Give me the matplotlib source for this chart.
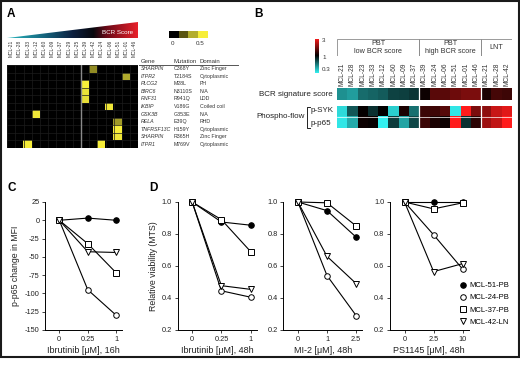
import numpy as np
import matplotlib
matplotlib.use('Agg')
from matplotlib import pyplot as plt
from matplotlib.colors import LinearSegmentedColormap, ListedColormap, LogNorm
from matplotlib.patches import Rectangle, Polygon
from matplotlib.lines import Line2D
import matplotlib.transforms as mtransforms

plt.rcParams['font.family'] = ['Liberation Sans', 'DejaVu Sans']

# ---- panel A: mutations ----
a_samples = ['MCL-21', 'MCL-28', 'MCL-33', 'MCL-12', 'MCL-60', 'MCL-09', 'MCL-37', 'MCL-29',
             'MCL-25', 'MCL-39', 'MCL-42', 'MCL-24', 'MCL-06', 'MCL-51', 'MCL-01', 'MCL-46']
a_genes = ['SHARPIN', 'ITPR2', 'PLCG2', 'BIRC6', 'RNF31', 'IKBIP', 'GSK3B', 'RELA',
           'TNFRSF13C', 'SHARPIN', 'ITPR1']
a_mutations = ['C368Y', 'T2184S', 'M28L', 'N3110S', 'R941Q', 'V186G', 'G353E', 'E39Q',
               'H159Y', 'R365H', 'M769V']
a_domains = ['Zinc Finger', 'Cytoplasmic', 'PH', 'N/A', 'LDD', 'Coiled coil', 'N/A', 'RHD',
             'Cytoplasmic', 'Zinc Finger', 'Cytoplasmic']
# allele frequency of the hits (gene row, sample column, value)
a_hit_rows = [0, 1, 2, 3, 4, 5, 6, 7, 8, 9, 10, 10]
a_hit_cols = [10, 14, 9, 9, 9, 12, 3, 13, 13, 13, 2, 11]
a_hit_vals = [0.27, 0.33, 0.5, 0.47, 0.46, 0.48, 0.48, 0.3, 0.5, 0.48, 0.5, 0.5]

# ---- panel B: BCR score / phospho-flow (fold change) ----
b_samples = ['MCL-21', 'MCL-28', 'MCL-23', 'MCL-33', 'MCL-12', 'MCL-60', 'MCL-09', 'MCL-37',
             'MCL-39', 'MCL-24', 'MCL-06', 'MCL-51', 'MCL-01', 'MCL-46',
             'MCL-21', 'MCL-28', 'MCL-42']
b_groups = ['PBT\nlow BCR score', 'PBT\nhigh BCR score', 'LNT']
b_group_sizes = [8, 6, 3]
b_bcr_score = [0.52, 0.49, 0.61, 0.63, 0.66, 0.74, 0.75, 0.78,
               1.06, 1.47, 1.47, 1.6, 1.69, 1.69, 1.12, 1.35, 1.3]
b_psyk = [0.37, 0.67, 1.02, 0.8, 1.0, 0.39, 1.12, 0.6,
          1.29, 1.3, 1.44, 0.35, 3.0, 1.69, 1.83, 2.36, 2.63]
b_pp65 = [0.35, 0.46, 1.06, 1.03, 0.33, 0.76, 0.47, 0.72,
          1.29, 1.12, 1.06, 3.0, 0.8, 1.2, 1.97, 2.28, 3.0]

# ---- panels C / D: drug response ----
cell_lines = ['MCL-51-PB', 'MCL-24-PB', 'MCL-37-PB', 'MCL-42-LN']
c_doses = ['0', '0.25', '1']
c_p65 = [[0, 3, 0], [0, -95, -130], [0, -32, -72], [0, -43, -44]]
d_ibr_doses = ['0', '0.25', '1']
d_ibr = [[1.0, 0.875, 0.855], [1.0, 0.445, 0.405], [1.0, 0.89, 0.69], [1.0, 0.477, 0.454]]
d_mi2_doses = ['0', '1', '2.5']
d_mi2 = [[1.0, 0.946, 0.78], [1.0, 0.54, 0.29], [1.0, 0.995, 0.85], [1.0, 0.66, 0.49]]
d_ps_doses = ['0', '2.5', '10']
d_ps = [[1.0, 1.0, 1.0], [1.0, 0.795, 0.58], [1.0, 0.957, 0.995], [1.0, 0.565, 0.615]]

W, H = 520, 367
TXT = '#222222'


def box(x0, y0, x1, y1):
    # pixel box -> figure fraction rect
    return [x0 / W, 1 - y1 / H, (x1 - x0) / W, (y1 - y0) / H]


fig = plt.figure(figsize=(5.2, 3.67), dpi=100)

for letter, x, y in [('A', 7, 14), ('B', 254, 14), ('C', 8, 188), ('D', 149, 188)]:
    fig.text(x / W, 1 - y / H, letter, fontsize=8.5, fontweight='bold', va='center')

# ================= A =================
mut_cmap = LinearSegmentedColormap.from_list('mut', ['#000000', '#5a5512', '#b3ad2e', '#f7ee3a'])
mat = np.zeros((len(a_genes), len(a_samples)))
for r, c, v in zip(a_hit_rows, a_hit_cols, a_hit_vals):
    mat[r, c] = v

ax_a = fig.add_axes(box(7.3, 65, 138.3, 148))
ax_a.imshow(mat, cmap=mut_cmap, vmin=0, vmax=0.5, aspect='auto', interpolation='nearest')
ax_a.set_xticks(np.arange(-0.5, len(a_samples), 1), minor=True)
ax_a.set_yticks(np.arange(-0.5, len(a_genes), 1), minor=True)
ax_a.set_xticks([])
ax_a.set_yticks([])
ax_a.grid(which='minor', color='#1c1c1c', lw=0.5)
ax_a.tick_params(which='both', length=0)
ax_a.axvline(8.5, color='#8a8a8a', lw=1)
for s in ax_a.spines.values():
    s.set_visible(False)
trans = mtransforms.blended_transform_factory(ax_a.transData, ax_a.transAxes)
for j, name in enumerate(a_samples):
    ax_a.text(j, 1.096, name, transform=trans, rotation=90, ha='center', va='bottom',
              fontsize=3.5, color='#333333')

# BCR score triangle
ax_t = fig.add_axes(box(7.3, 22, 138.3, 38))
tri_cmap = LinearSegmentedColormap.from_list(
    'tri', [(0, '#2ab8c0'), (0.3, '#14607a'), (0.5, '#0c2040'), (0.66, '#08080e'),
            (0.76, '#6a0a18'), (1, '#e8202a')])
im = ax_t.imshow(np.linspace(0, 1, 256)[None, :], cmap=tri_cmap, aspect='auto',
                 extent=[0, 1, 0, 1])
im.set_clip_path(Polygon([(0, 0), (1, 0), (1, 1)], closed=True, transform=ax_t.transAxes))
ax_t.set_xlim(0, 1)
ax_t.set_ylim(0, 1)
ax_t.axis('off')
ax_t.text(0.84, 0.32, 'BCR Score', color='white', fontsize=4.5, ha='center', va='center')

# small key
ax_k = fig.add_axes(box(169.3, 31, 208.3, 38))
ax_k.imshow([[0, 1, 2, 3]], cmap=ListedColormap(mut_cmap(np.linspace(0, 1, 4))), aspect='auto')
ax_k.set_xticks([])
ax_k.set_yticks([])
for s in ax_k.spines.values():
    s.set_visible(False)
ax_k.text(-0.15, 1.25, '0', fontsize=4.5, ha='center', va='center', color='#333333')
ax_k.text(2.65, 1.25, '0.5', fontsize=4.5, ha='center', va='center', color='#333333')

# gene table
ax_tab = fig.add_axes(box(138.3, 57.4, 245, 148))
ax_tab.set_xlim(138.3, 245)
ax_tab.set_ylim(10.5, -1.5)
ax_tab.axis('off')
for x, head in [(141, 'Gene'), (174, 'Mutation'), (200, 'Domain')]:
    ax_tab.text(x, -1, head, fontsize=4.3, va='center', color='#333333')
for i, (g, m, d) in enumerate(zip(a_genes, a_mutations, a_domains)):
    ax_tab.text(141, i, g, fontsize=3.8, style='italic', va='center', color='#333333')
    ax_tab.text(174, i, m, fontsize=3.8, va='center', color='#333333')
    ax_tab.text(200, i, d, fontsize=3.8, va='center', color='#333333')
ax_tab.plot([139, 238], [-0.5, -0.5], color='#555555', lw=0.7)
ax_tab.plot([139, 238], [10.45, 10.45], color='#555555', lw=0.6)

# ================= B =================
bcr_cmap = LinearSegmentedColormap.from_list('bcr', ['#33f0f0', '#000000', '#ff1c1c'])
norm = LogNorm(vmin=1 / 3, vmax=3)

ax_cb = fig.add_axes(box(315, 39, 318.5, 73))
ax_cb.imshow(np.logspace(np.log10(1 / 3), np.log10(3), 128)[:, None], cmap=bcr_cmap, norm=norm,
             aspect='auto', origin='lower')
ax_cb.axis('off')
for lab, yy in [('3', 0.97), ('1', 0.47), ('0.3', 0.09)]:
    ax_cb.text(2.0, yy, lab, transform=ax_cb.transAxes, fontsize=4.5, va='center',
               color='#333333')

ax_hdr = fig.add_axes(box(337, 39, 512, 56))
ax_hdr.set_xlim(-0.5, len(b_samples) - 0.5)
ax_hdr.set_ylim(0, 1)
ax_hdr.axis('off')
start = -0.5
for name, n in zip(b_groups, b_group_sizes):
    ax_hdr.add_patch(Rectangle((start, 0.02), n, 0.96, fill=False, ec='#8a8a8a', lw=0.6))
    ax_hdr.text(start + n / 2, 0.5, name, ha='center', va='center', fontsize=5.2,
                linespacing=1.25, color='#333333')
    start += n
bounds = np.cumsum(b_group_sizes)[:-1] - 0.5

ax_sig = fig.add_axes(box(337, 88, 512, 100))
ax_sig.imshow([b_bcr_score], cmap=bcr_cmap, norm=norm, aspect='auto', interpolation='nearest')
ax_ph = fig.add_axes(box(337, 105.7, 512, 128.5))
ax_ph.imshow([b_psyk, b_pp65], cmap=bcr_cmap, norm=norm, aspect='auto', interpolation='nearest')
ax_ph.axhline(0.5, color='white', lw=0.5)
for ax in (ax_sig, ax_ph):
    ax.set_xticks([])
    ax.set_yticks([])
    for s in ax.spines.values():
        s.set_visible(False)
    for b in bounds:
        ax.axvline(b, color='white', lw=0.9)
trans = mtransforms.blended_transform_factory(ax_sig.transData, ax_sig.transAxes)
for j, name in enumerate(b_samples):
    ax_sig.text(j, 1.17, name, transform=trans, rotation=90, ha='center', va='bottom',
                fontsize=4.8, color='#333333')

fig.text(333 / W, 1 - 94 / H, 'BCR signature score', ha='right', va='center', fontsize=5.8,
         color=TXT)
fig.text(256 / W, 1 - 117 / H, 'Phospho-flow', ha='left', va='center', fontsize=5.8,
         color=TXT)
fig.add_artist(Line2D(np.array([310, 306.5, 306.5, 310]) / W,
                      1 - np.array([106.5, 106.5, 128, 128]) / H,
                      transform=fig.transFigure, color=TXT, lw=0.7))
fig.text(311 / W, 1 - 111 / H, 'p-SYK', va='center', fontsize=5.8, color=TXT)
fig.text(311 / W, 1 - 123.5 / H, 'p-p65', va='center', fontsize=5.8, color=TXT)

# ================= C / D =================
styles = [dict(marker='o', mfc='black'), dict(marker='o', mfc='white'),
          dict(marker='s', mfc='white'), dict(marker='v', mfc='white')]


def curves(ax, doses, series, xlabel, ylim, yticks, ylabels):
    x = np.arange(len(doses))
    for vals, st in zip(series, styles):
        ax.plot(x, vals, color='black', lw=0.8, mec='black', mew=0.7, ms=4,
                clip_on=False, **st)
    ax.set_xlim(-0.5, 2.2)
    ax.set_ylim(*ylim)
    ax.set_xticks(x)
    ax.set_xticklabels(doses)
    ax.set_yticks(yticks)
    ax.set_yticklabels(ylabels)
    ax.set_xlabel(xlabel, fontsize=6.5, labelpad=2.5, color=TXT)
    ax.spines[['top', 'right']].set_visible(False)
    for s in ('left', 'bottom'):
        ax.spines[s].set_linewidth(0.7)
    ax.tick_params(length=2, width=0.6, labelsize=5.3, pad=2, colors=TXT)


ax_c = fig.add_axes(box(45, 202, 122, 330))
cticks = [-150, -125, -100, -75, -50, -25, 0, 25]
curves(ax_c, c_doses, c_p65, 'Ibrutinib [\u03bcM], 16h', (-150, 25), cticks,
       [str(t) for t in cticks])
ax_c.set_ylabel('p-p65 change in MFI', fontsize=6.3, labelpad=3, color=TXT)

dticks = [0.2, 0.4, 0.6, 0.8, 1.0]
dlabels = ['0.2', '0.4', '0.6', '0.8', '1.0']
ax_d1 = fig.add_axes(box(177.5, 202, 256.5, 330))
curves(ax_d1, d_ibr_doses, d_ibr, 'Ibrutinib [\u03bcM], 48h', (0.2, 1.0), dticks, dlabels)
ax_d1.set_ylabel('Relative viability (MTS)', fontsize=6.3, labelpad=3, color=TXT)
ax_d2 = fig.add_axes(box(283.3, 202, 362, 330))
curves(ax_d2, d_mi2_doses, d_mi2, 'MI-2 [\u03bcM], 48h', (0.2, 1.0), dticks, dlabels)
ax_d3 = fig.add_axes(box(390, 202, 468.5, 330))
curves(ax_d3, d_ps_doses, d_ps, 'PS1145 [\u03bcM], 48h', (0.2, 1.0), dticks, dlabels)

handles = [Line2D([], [], ls='none', color='black', mec='black', mew=0.7, ms=4, **st)
           for st in styles]
fig.legend(handles, cell_lines, loc='upper left', bbox_to_anchor=(461 / W, 1 - 282 / H),
           frameon=False, fontsize=5.5, handlelength=0.6, handletextpad=0.5,
           labelspacing=0.62, borderpad=0, borderaxespad=0)

# outer frame
fig.add_artist(Rectangle((0.7 / W, 1 - 357 / H), 518.3 / W, 356 / H, transform=fig.transFigure,
                         fill=False, ec='#1a1a1a', lw=1.5))

fig.savefig('out.png', dpi=100)
